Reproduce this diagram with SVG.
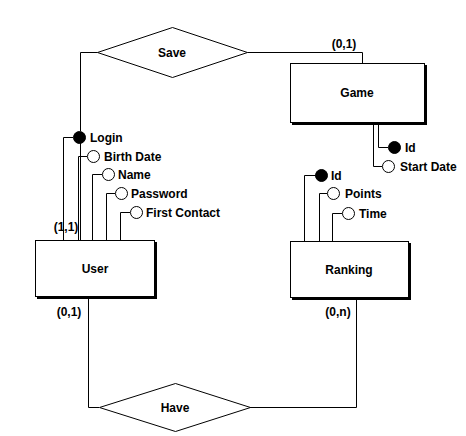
<svg xmlns="http://www.w3.org/2000/svg" width="466" height="436" viewBox="0 0 466 436">
<style>
text{font-family:"Liberation Sans",Arial,sans-serif;font-weight:bold;font-size:12px;fill:#000}
.l{fill:none;stroke:#000;stroke-width:1}
.box{fill:#fff;stroke:#000;stroke-width:1}
.sh{fill:#000}
.att{fill:#fff;stroke:#000;stroke-width:1}
.key{fill:#000;stroke:#000;stroke-width:1}
.c{text-anchor:middle}
</style>
<rect width="466" height="436" fill="#fff"/>
<g id="connectors">
<polyline class="l" points="97.5,52.5 80.5,52.5 80.5,131"/>
<polyline class="l" points="247.5,52.5 362.5,52.5 362.5,63.5"/>
<polyline class="l" points="88.5,297 88.5,407.5 99,407.5"/>
<polyline class="l" points="250,407.5 356.5,407.5 356.5,298"/>
</g>
<g id="user-attrs">
<polyline class="l" points="80.5,143 80.5,240"/>
<polyline class="l" points="63.5,240 63.5,137.5 73,137.5"/>
<polyline class="l" points="78.5,240 78.5,156.5 87,156.5"/>
<polyline class="l" points="92.5,240 92.5,174.5 102,174.5"/>
<polyline class="l" points="106.5,240 106.5,193.5 115,193.5"/>
<polyline class="l" points="120.5,240 120.5,212.5 130,212.5"/>
<circle class="key" cx="79.5" cy="137.5" r="6"/>
<circle class="att" cx="93.5" cy="156.5" r="6"/>
<circle class="att" cx="108.5" cy="174.5" r="6"/>
<circle class="att" cx="121.5" cy="193.5" r="6"/>
<circle class="att" cx="136.5" cy="212.5" r="6"/>
<text x="90" y="142">Login</text>
<text x="104" y="161">Birth Date</text>
<text x="118" y="179">Name</text>
<text x="131" y="198">Password</text>
<text x="146" y="217">First Contact</text>
</g>
<g id="game-attrs">
<polyline class="l" points="378.5,123 378.5,147.5 388,147.5"/>
<polyline class="l" points="373.5,123 373.5,166.5 382,166.5"/>
<circle class="key" cx="394.5" cy="147.5" r="6"/>
<circle class="att" cx="388.5" cy="166.5" r="6"/>
<text x="405" y="152">Id</text>
<text x="400" y="171">Start Date</text>
</g>
<g id="ranking-attrs">
<polyline class="l" points="304.5,241 304.5,175.5 316,175.5"/>
<polyline class="l" points="319.5,241 319.5,193.5 327,193.5"/>
<polyline class="l" points="332.5,241 332.5,213.5 342,213.5"/>
<circle class="key" cx="321.5" cy="175.5" r="6"/>
<circle class="att" cx="333.5" cy="193.5" r="6"/>
<circle class="att" cx="348.5" cy="213.5" r="6"/>
<text x="331" y="180">Id</text>
<text x="345" y="198">Points</text>
<text x="359" y="218">Time</text>
</g>
<g id="save">
<polygon class="box" points="97.5,52.5 172.5,27.5 247.5,52.5 172.5,77.5"/>
<text class="c" x="172" y="57">Save</text>
</g>
<g id="have">
<polygon class="box" points="99.5,407.5 175.5,383.5 250.5,407.5 175.5,431.5"/>
<text class="c" x="175" y="412">Have</text>
</g>
<g id="game">
<rect class="sh" x="292" y="65" width="135" height="60"/>
<rect class="box" x="290.5" y="63.5" width="134" height="59"/>
<text class="c" x="357" y="97">Game</text>
</g>
<g id="user">
<rect class="sh" x="37" y="242" width="120" height="57"/>
<rect class="box" x="35.5" y="240.5" width="119" height="56"/>
<text class="c" x="95" y="273">User</text>
</g>
<g id="ranking">
<rect class="sh" x="292" y="243" width="119" height="57"/>
<rect class="box" x="290.5" y="241.5" width="118" height="56"/>
<text class="c" x="349" y="274">Ranking</text>
</g>
<g id="labels">
<text class="c" x="344" y="48">(0,1)</text>
<text class="c" x="66" y="231">(1,1)</text>
<text class="c" x="69" y="316">(0,1)</text>
<text class="c" x="338" y="316">(0,n)</text>
</g>
</svg>
